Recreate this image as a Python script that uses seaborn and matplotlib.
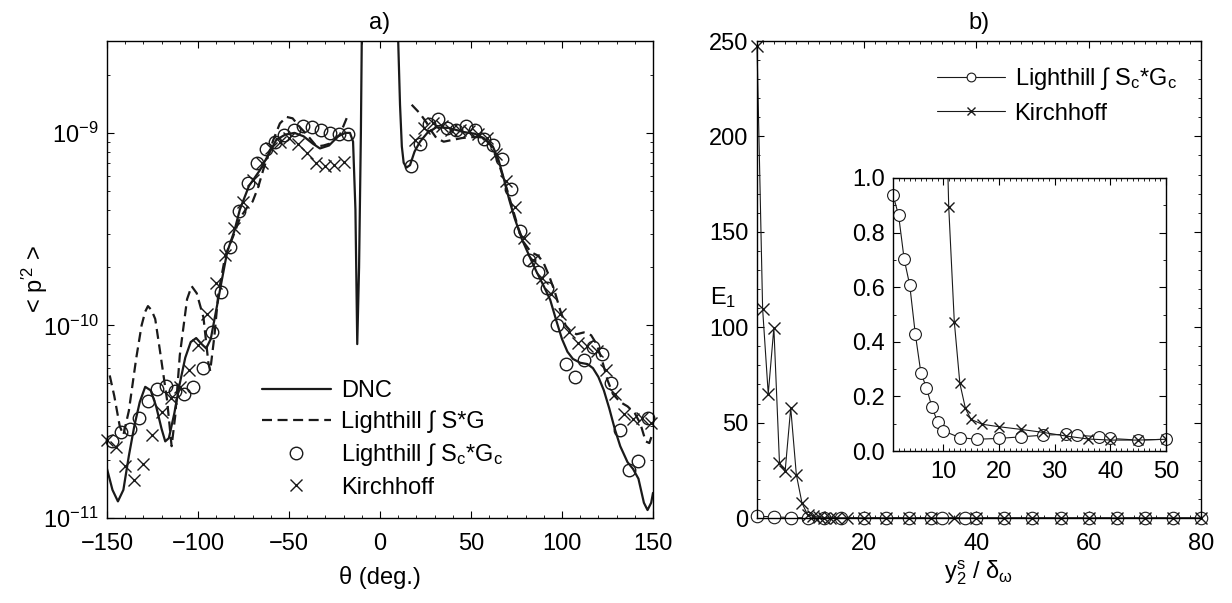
import matplotlib
matplotlib.use('Agg')
import matplotlib.pyplot as plt
import numpy as np
import seaborn as sns
from matplotlib.ticker import AutoMinorLocator, LogLocator, MultipleLocator, NullFormatter, FormatStrFormatter

# ---------------- panel a) : directivity <p'^2>(theta) ----------------
# DNC (solid), left and right of the jet axis
dnc_left_theta = [-150, -147, -144, -141, -138, -135, -132, -129, -126, -123, -120, -118, -116,
                  -113, -110, -107, -104, -101, -98, -95.5, -93, -90, -87, -84, -80, -77, -72,
                  -66, -61, -57, -52, -47, -42, -37, -33, -28, -23, -19, -16.5, -14.8, -13.5,
                  -12.5, -11.5, -10.5, -9.5]
dnc_left_p = [1.8e-11, 1.4e-11, 1.22e-11, 1.4e-11, 2.1e-11, 3.0e-11, 4.0e-11, 4.8e-11, 4.6e-11,
              3.8e-11, 2.9e-11, 2.5e-11, 2.6e-11, 3.5e-11, 5.0e-11, 6.8e-11, 8.2e-11, 8.6e-11,
              8.0e-11, 7.6e-11, 8.5e-11, 1.2e-10, 1.7e-10, 2.4e-10, 3.1e-10, 4.0e-10, 5.3e-10,
              6.4e-10, 7.8e-10, 9.2e-10, 9.8e-10, 1.0e-9, 9.6e-10, 8.8e-10, 8.3e-10, 8.6e-10,
              9.6e-10, 1.0e-9, 1.0e-9, 9.0e-10, 4.0e-10, 8.0e-11, 2.0e-10, 1.0e-9, 1.0e-8]
dnc_right_theta = [9.5, 10, 11, 12, 13, 14.5, 16.5, 19, 22, 26, 31, 38, 46, 52, 57, 62, 65, 68,
                   71, 74, 78, 82, 86, 90, 93.5, 97, 100, 103, 106, 110, 114, 117, 120, 123, 126,
                   129, 132, 136, 139, 142, 145, 147, 149, 150]
dnc_right_p = [1.0e-8, 3.0e-9, 1.4e-9, 8.5e-10, 7.0e-10, 6.6e-10, 6.8e-10, 8.0e-10, 9.0e-10,
               1.0e-9, 1.07e-9, 1.06e-9, 1.01e-9, 9.9e-10, 9.4e-10, 8.5e-10, 7.3e-10, 5.8e-10,
               4.5e-10, 3.6e-10, 2.8e-10, 2.3e-10, 1.9e-10, 1.6e-10, 1.36e-10, 1.05e-10, 8.5e-11,
               7.3e-11, 6.7e-11, 6.4e-11, 6.3e-11, 6.0e-11, 5.4e-11, 4.6e-11, 3.7e-11, 2.9e-11,
               2.36e-11, 1.95e-11, 1.8e-11, 1.6e-11, 1.2e-11, 1.1e-11, 1.2e-11, 1.35e-11]

# Lighthill  int S*G (dashed)
sg_left_theta = [-148.5, -146, -143, -141, -138, -134, -131, -129, -127.5, -125.5, -123.5, -121,
                 -117, -114.5, -112.5, -110, -106, -103.5, -100.7, -97, -94.3, -93.3, -91, -88.8,
                 -85, -80.7, -77, -73, -70, -67, -64, -58.6, -55, -51.3, -48, -44, -41, -34.8,
                 -31, -27.5, -22, -19.5, -17.4]
sg_left_p = [5.5e-11, 4.3e-11, 3.0e-11, 2.7e-11, 3.6e-11, 6.7e-11, 1.0e-10, 1.18e-10, 1.26e-10,
             1.2e-10, 1.08e-10, 7.5e-11, 4.1e-11, 2.36e-11, 3.4e-11, 7.0e-11, 1.37e-10, 1.6e-10,
             1.47e-10, 1.1e-10, 6.4e-11, 5.8e-11, 8.8e-11, 1.47e-10, 2.3e-10, 2.9e-10, 3.6e-10,
             4.1e-10, 4.4e-10, 5.2e-10, 6.5e-10, 9.2e-10, 1.12e-9, 1.21e-9, 1.19e-9, 1.07e-9,
             1.0e-9, 8.5e-10, 8.6e-10, 8.8e-10, 9.8e-10, 1.12e-9, 1.25e-9]
sg_right_theta = [17.4, 22, 25.6, 28, 31, 35, 40, 45, 50, 55, 60, 63, 66, 70, 73, 76, 79, 83, 87,
                  90, 93, 96, 99, 102, 105, 108, 112, 116, 119, 122, 125, 128, 132, 136, 140, 143,
                  146, 148, 149.5]
sg_right_p = [1.4e-9, 1.26e-9, 1.13e-9, 1.03e-9, 9.4e-10, 9.0e-10, 9.2e-10, 9.4e-10, 9.5e-10,
              9.5e-10, 8.9e-10, 7.8e-10, 6.6e-10, 5.0e-10, 4.0e-10, 3.2e-10, 2.7e-10, 2.4e-10,
              2.3e-10, 2.1e-10, 1.8e-10, 1.5e-10, 1.2e-10, 1.0e-10, 9.3e-11, 9.0e-11, 9.2e-11,
              8.9e-11, 8.0e-11, 6.6e-11, 5.2e-11, 4.4e-11, 4.0e-11, 3.8e-11, 3.5e-11, 3.1e-11,
              2.5e-11, 2.45e-11, 2.7e-11]

# Lighthill int Sc*Gc (circles)
lh_theta = [-147.5, -142.5, -137.5, -132.5, -127.5, -122.5, -117.5, -112.5, -107.5, -102.5,
            -97.5, -92.5, -87.5, -82.5, -77.5, -72.5, -67.5, -62.5, -57.5, -52.5, -47.5, -42.5,
            -37.5, -32.5, -27.5, -22.5, -17.5,
            17, 22, 27, 32, 37, 42, 47, 52, 57, 62, 67, 72, 77, 82, 87, 92, 97, 102, 107, 112,
            117, 122, 127, 132, 137, 142, 147]
lh_p = [2.5e-11, 2.8e-11, 2.9e-11, 3.3e-11, 4.05e-11, 4.7e-11, 4.85e-11, 4.55e-11, 4.4e-11,
        4.8e-11, 6.0e-11, 9.2e-11, 1.5e-10, 2.57e-10, 3.95e-10, 5.5e-10, 7.0e-10, 8.2e-10,
        9.0e-10, 9.76e-10, 1.04e-9, 1.08e-9, 1.07e-9, 1.04e-9, 1.0e-9, 9.9e-10, 9.9e-10,
        6.7e-10, 8.8e-10, 1.11e-9, 1.18e-9, 1.06e-9, 1.04e-9, 1.09e-9, 1.04e-9, 9.3e-10,
        8.6e-10, 7.3e-10, 5.1e-10, 3.1e-10, 2.2e-10, 1.9e-10, 1.57e-10, 1.01e-10, 6.3e-11,
        5.4e-11, 6.6e-11, 7.7e-11, 7.1e-11, 5.0e-11, 2.86e-11, 1.78e-11, 1.98e-11, 3.3e-11]

# Kirchhoff (crosses)
kh_theta = [-150, -145, -140, -135, -130, -125, -120, -115, -110, -105, -100, -95, -90, -85,
            -80, -75, -70, -65, -60, -55, -50, -45, -40, -35, -30, -25, -20,
            19, 24, 29, 34, 39, 44, 49, 54, 59, 64, 69, 74, 79, 84, 89, 94, 99, 104, 109, 114,
            119, 124, 129, 134, 139, 144, 149]
kh_p = [2.54e-11, 2.35e-11, 1.87e-11, 1.58e-11, 1.9e-11, 2.7e-11, 3.57e-11, 4.2e-11, 4.8e-11,
        5.9e-11, 7.9e-11, 1.15e-10, 1.66e-10, 2.33e-10, 3.2e-10, 4.4e-10, 5.7e-10, 7.0e-10,
        8.3e-10, 9.0e-10, 9.4e-10, 8.8e-10, 7.85e-10, 7.0e-10, 6.7e-10, 6.8e-10, 7.1e-10,
        9.2e-10, 1.06e-9, 1.12e-9, 1.08e-9, 1.04e-9, 1.03e-9, 1.02e-9, 9.9e-10, 9.4e-10,
        7.8e-10, 5.6e-10, 4.1e-10, 2.85e-10, 2.2e-10, 1.77e-10, 1.45e-10, 1.15e-10, 9.2e-11,
        8.1e-11, 7.8e-11, 7.4e-11, 5.9e-11, 4.4e-11, 3.46e-11, 3.26e-11, 3.3e-11, 3.1e-11]

# ---------------- panel b) : error E1 vs y2s/delta_omega ----------------
lhb_y_main = [1, 4, 7, 10, 13, 16, 20, 24, 28, 32, 34, 38, 40, 45, 50, 55, 60, 65, 70, 75, 80]
lhb_e_main = [0.938, 0.608, 0.232, 0.074, 0.049, 0.043, 0.046, 0.052, 0.058, 0.061, 0.058,
              0.052, 0.046, 0.040, 0.043, 0.04, 0.04, 0.04, 0.04, 0.04, 0.04]
lhb_y_inset = [1, 2, 3, 4, 5, 6, 7, 8, 9, 10, 13, 16, 20, 24, 28, 32, 34, 38, 40, 45, 50]
lhb_e_inset = [0.938, 0.864, 0.703, 0.608, 0.429, 0.287, 0.232, 0.160, 0.107, 0.074, 0.049,
               0.043, 0.046, 0.052, 0.058, 0.061, 0.058, 0.052, 0.046, 0.040, 0.043]
khb_y = [1, 2, 3, 4, 5, 6, 7, 8, 9, 10, 11, 12, 13, 14, 15, 17, 20, 24, 28, 32, 36, 40, 45, 50,
         55, 60, 65, 70, 75, 80]
khb_e = [247.4, 109.6, 65.0, 99.7, 28.8, 24.4, 57.7, 22.7, 7.9, 1.7, 0.895, 0.474, 0.248, 0.156,
         0.116, 0.098, 0.089, 0.079, 0.068, 0.055, 0.044, 0.040, 0.040, 0.043, 0.04, 0.04, 0.04,
         0.04, 0.04, 0.04]

lab_sg = 'Lighthill ∫ S*G'
lab_lh = 'Lighthill ∫ S$_\\mathrm{c}$*G$_\\mathrm{c}$'
lab_kh = 'Kirchhoff'

sns.set_theme(style='ticks')
plt.rcParams['font.family'] = ['Liberation Sans', 'DejaVu Sans']
plt.rcParams.update({
    'mathtext.fontset': 'custom',
    'mathtext.rm': 'Liberation Sans',
    'mathtext.it': 'Liberation Sans:italic',
    'mathtext.bf': 'Liberation Sans:bold',
    'font.size': 17,
    'axes.labelsize': 17,
    'axes.titlesize': 17,
    'xtick.labelsize': 17,
    'ytick.labelsize': 17,
    'legend.fontsize': 17,
    'axes.linewidth': 1.0,
    'axes.edgecolor': 'black',
    'xtick.color': 'black',
    'ytick.color': 'black',
    'text.color': 'black',
    'axes.labelcolor': 'black',
    'xtick.direction': 'in',
    'ytick.direction': 'in',
    'xtick.top': True,
    'ytick.right': True,
    'xtick.major.size': 5,
    'ytick.major.size': 5,
    'xtick.minor.size': 2.5,
    'ytick.minor.size': 2.5,
    'xtick.major.width': 0.8,
    'ytick.major.width': 0.8,
    'xtick.minor.width': 0.6,
    'ytick.minor.width': 0.6,
    'xtick.major.pad': 11,
    'ytick.major.pad': 6,
})

fig = plt.figure(figsize=(12.32, 6.03), dpi=100)
ax1 = fig.add_axes([0.08685, 0.14096, 0.44318, 0.79104])
ax2 = fig.add_axes([0.61445, 0.14096, 0.3604, 0.79104])
ax3 = fig.add_axes([0.72484, 0.25207, 0.22159, 0.45274])

dash = (0, (4.5, 2.5))

# ---- panel a)
ax1.set_yscale('log')
sns.lineplot(x=dnc_left_theta, y=dnc_left_p, ax=ax1, color='k', lw=1.6, estimator=None,
             sort=False, label='DNC')
sns.lineplot(x=dnc_right_theta, y=dnc_right_p, ax=ax1, color='k', lw=1.6, estimator=None,
             sort=False)
sns.lineplot(x=sg_left_theta, y=sg_left_p, ax=ax1, color='k', lw=1.6, estimator=None,
             sort=False, dashes=False, linestyle=dash, label=lab_sg)
sns.lineplot(x=sg_right_theta, y=sg_right_p, ax=ax1, color='k', lw=1.6, estimator=None,
             sort=False, dashes=False, linestyle=dash)
sns.lineplot(x=lh_theta, y=lh_p, ax=ax1, color='k', linestyle='none', marker='o', ms=9,
             mfc='none', mec='k', mew=1.0, estimator=None, sort=False, label=lab_lh,
             clip_on=False)
sns.lineplot(x=kh_theta, y=kh_p, ax=ax1, color='k', linestyle='none', marker='x', ms=8,
             mec='k', mew=1.0, estimator=None, sort=False, label=lab_kh, clip_on=False)

ax1.set_xlim(-150, 150)
ax1.set_ylim(1e-11, 3e-9)
ax1.xaxis.set_major_locator(MultipleLocator(50))
ax1.xaxis.set_minor_locator(AutoMinorLocator(5))
ax1.yaxis.set_major_locator(LogLocator(base=10, numticks=10))
ax1.yaxis.set_minor_locator(LogLocator(base=10, subs=np.arange(2, 10), numticks=20))
ax1.yaxis.set_minor_formatter(NullFormatter())
ax1.set_xlabel('θ (deg.)', labelpad=8)
ax1.set_ylabel("< p$^{\\prime 2}$ >")
ax1.yaxis.set_label_coords(-0.105, 0.5)
ax1.set_title('a)', pad=9)
ax1.legend(loc='center', bbox_to_anchor=(0.505, 0.165), frameon=False, handlelength=2.9,
           handletextpad=0.45, labelspacing=0.35, borderaxespad=0)

# ---- panel b) main
sns.lineplot(x=lhb_y_main, y=lhb_e_main, ax=ax2, color='k', lw=0.8, marker='o', ms=9,
             mfc='white', mec='k', mew=0.8, estimator=None, sort=False, label=lab_lh,
             clip_on=False)
sns.lineplot(x=khb_y, y=khb_e, ax=ax2, color='k', lw=0.8, marker='x', ms=8, mec='k', mew=1.0,
             estimator=None, sort=False, label=lab_kh, clip_on=False)
ax2.set_xlim(1, 80)
ax2.set_ylim(0, 250)
ax2.xaxis.set_major_locator(MultipleLocator(20))
ax2.xaxis.set_minor_locator(AutoMinorLocator(10))
ax2.yaxis.set_major_locator(MultipleLocator(50))
ax2.yaxis.set_minor_locator(AutoMinorLocator(5))
ax2.set_xlabel('y$_2^\\mathrm{s}$ / δ$_\\mathrm{ω}$', labelpad=2)
ax2.set_ylabel('E$_1$', rotation=0, va='center', ha='center')
ax2.yaxis.set_label_coords(-0.077, 0.463)
ax2.set_title('b)', pad=9)
ax2.legend(loc='center', bbox_to_anchor=(0.675, 0.887), frameon=False, handlelength=2.9,
           handletextpad=0.4, labelspacing=0.45, borderaxespad=0, markerscale=0.7)

# ---- panel b) inset
sns.lineplot(x=lhb_y_inset, y=lhb_e_inset, ax=ax3, color='k', lw=0.8, marker='o', ms=8.5,
             mfc='white', mec='k', mew=0.8, estimator=None, sort=False, clip_on=False)
sns.lineplot(x=khb_y, y=khb_e, ax=ax3, color='k', lw=0.8, marker='x', ms=7.5, mec='k', mew=1.0,
             estimator=None, sort=False)
ax3.set_xlim(1, 50)
ax3.set_ylim(0, 1)
ax3.xaxis.set_major_locator(MultipleLocator(10))
ax3.xaxis.set_minor_locator(AutoMinorLocator(10))
ax3.yaxis.set_major_locator(MultipleLocator(0.2))
ax3.yaxis.set_minor_locator(AutoMinorLocator(2))
ax3.yaxis.set_major_formatter(FormatStrFormatter('%.1f'))
ax3.tick_params(axis='x', which='major', pad=7)
ax3.set_xlabel('')
ax3.set_ylabel('')
if ax3.get_legend() is not None:
    ax3.get_legend().remove()

for ax in (ax1, ax2, ax3):
    ax.grid(False)
    for s in ax.spines.values():
        s.set_visible(True)
        s.set_color('black')

fig.savefig('out.png', dpi=100)
